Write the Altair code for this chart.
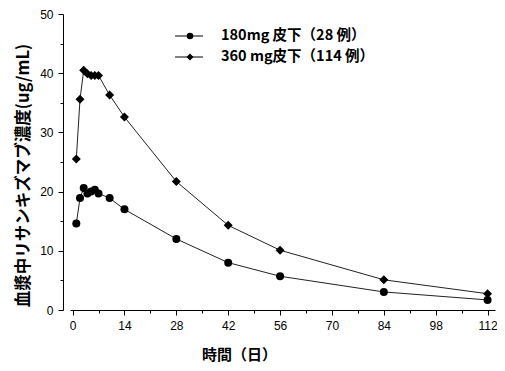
import altair as alt
import pandas as pd

series_names = ["180mg 皮下（28 例）", "360 mg皮下（114 例）"]
series_shapes = ["circle", "diamond"]
days = [1, 2, 3, 4, 5, 6, 7, 10, 14, 28, 42, 56, 84, 112]
conc_180 = [14.6, 18.9, 20.6, 19.7, 20.0, 20.3, 19.7, 18.9, 17.0, 12.0, 8.0, 5.7, 3.05, 1.7]
conc_360 = [25.5, 35.6, 40.5, 39.9, 39.6, 39.6, 39.6, 36.3, 32.6, 21.7, 14.3, 10.1, 5.1, 2.75]
x_ticks = list(range(0, 113, 7))
y_ticks = list(range(0, 51, 5))

df = pd.DataFrame({
    "day": days + days,
    "conc": conc_180 + conc_360,
    "series": [series_names[0]] * len(days) + [series_names[1]] * len(days),
})

x_enc = alt.X(
    "day:Q",
    scale=alt.Scale(domain=[-0.7, 114], nice=False, zero=False),
    axis=alt.Axis(
        values=x_ticks,
        labelExpr="datum.value % 14 === 0 ? datum.label : ''",
        tickSize={"condition": {"test": "datum.value % 14 === 0", "value": 5}, "value": 3},
        labelOverlap=False,
        labelPadding=5,
        title="時間（日）",
        titleX=169,
        titleY=44,
        titleBaseline="middle",
        titleAlign="center",
        titleFontSize=15,
    ),
)
y_enc = alt.Y(
    "conc:Q",
    scale=alt.Scale(domain=[0, 50], nice=False),
    axis=alt.Axis(
        values=y_ticks,
        labelExpr="datum.value % 10 === 0 ? datum.label : ''",
        tickSize={"condition": {"test": "datum.value % 10 === 0", "value": 5}, "value": 3},
        labelOverlap=False,
        labelPadding=5,
        offset=7,
        title="血漿中リサンキズマブ濃度(ug/mL)",
        titleX=-40,
        titleY=161,
        titleBaseline="middle",
        titleAlign="center",
        titleAngle=270,
        titleFontSize=16.5,
    ),
)

base = alt.Chart(df)

lines = base.mark_line(color="#222222", strokeWidth=1).encode(
    x=x_enc, y=y_enc, detail="series:N"
)

points = base.mark_point(filled=True, color="black", opacity=1).encode(
    x=x_enc,
    y=y_enc,
    shape=alt.Shape("series:N", scale=alt.Scale(domain=series_names, range=series_shapes), legend=None),
    size=alt.Size("series:N", scale=alt.Scale(domain=series_names, range=[64, 81]), legend=None),
)

# hand-made legend (line + marker + label), positioned in the plot's pixel frame
legend_layers = []
row_y = [22, 43]
for name, shp, yy in zip(series_names, series_shapes, row_y):
    ldf = pd.DataFrame({"label": [name]})
    lb = alt.Chart(ldf)
    legend_layers.append(
        lb.mark_rule(color="black", strokeWidth=1).encode(
            x=alt.value(105), x2=alt.value(133), y=alt.value(yy)
        )
    )
    legend_layers.append(
        lb.mark_point(filled=True, color="black", opacity=1, shape=shp,
                      size=42 if shp == "circle" else 49).encode(
            x=alt.value(120), y=alt.value(yy)
        )
    )
    legend_layers.append(
        lb.mark_text(align="left", baseline="middle", font="Noto Sans CJK JP",
                     fontSize=14.5, fontWeight="bold", color="black").encode(
            x=alt.value(151), y=alt.value(yy), text="label:N"
        )
    )

chart = (
    alt.layer(lines, points, *legend_layers)
    .resolve_scale(shape="independent", size="independent")
    .properties(
        width=425,
        height=296,
        autosize=alt.AutoSizeParams(type="none"),
        padding={"left": 62, "top": 6, "right": 2, "bottom": 53},
    )
    .configure_view(stroke=None)
    .configure_axis(
        grid=False,
        domainColor="black",
        tickColor="black",
        labelColor="black",
        labelFont="Liberation Sans",
        labelFontSize=12,
        titleFont="Noto Sans CJK JP",
        titleFontWeight="bold",
        titleColor="black",
    )
)

chart.save("out.html", embed_options={"renderer": "svg", "actions": False})
